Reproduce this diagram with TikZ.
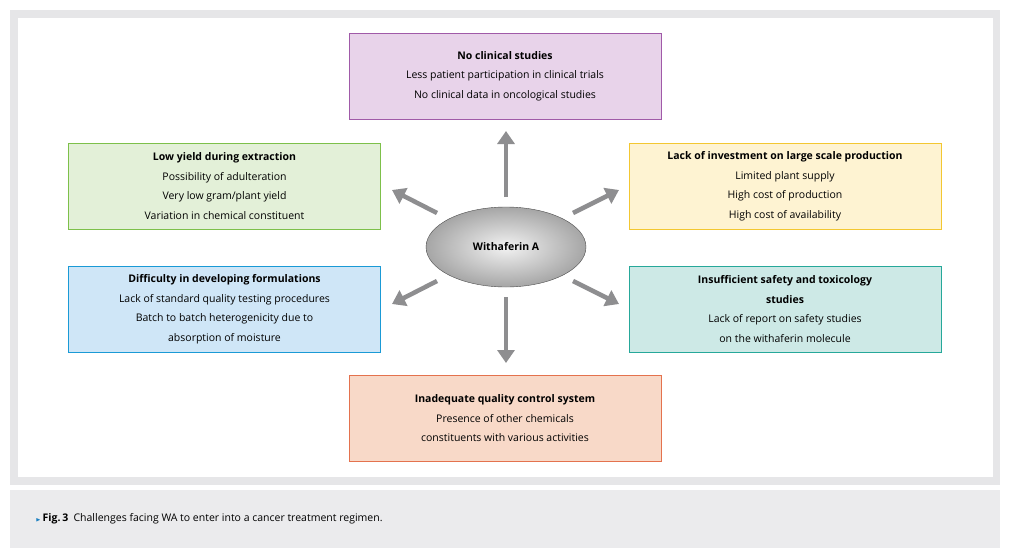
\documentclass[tikz,border=0pt]{standalone}
\usepackage{amssymb}
\usepackage{fontspec}
\setmainfont{Open Sans}
\usetikzlibrary{arrows.meta,shapes.geometric}
\definecolor{frame}{HTML}{E6E6E8}
\definecolor{capbg}{HTML}{EBEBED}
\definecolor{arr}{HTML}{8E8E90}
\definecolor{capblue}{HTML}{1A7FC1}
\definecolor{purpleD}{HTML}{A05AA8}\definecolor{purpleL}{HTML}{E8D3EA}
\definecolor{greenD}{HTML}{7DC04A}\definecolor{greenL}{HTML}{E3F0D8}
\definecolor{yellowD}{HTML}{F3C731}\definecolor{yellowL}{HTML}{FEF3D2}
\definecolor{blueD}{HTML}{1A9AD6}\definecolor{blueL}{HTML}{CFE6F7}
\definecolor{tealD}{HTML}{26A89A}\definecolor{tealL}{HTML}{CDE9E6}
\definecolor{orangeD}{HTML}{E4724E}\definecolor{orangeL}{HTML}{F8D9C8}
\tikzset{
  box/.style={draw=#1D, fill=#1L, line width=0.9pt, minimum width=312pt,
    minimum height=86pt, align=center, inner sep=2pt,
    font=\fontsize{10.5}{19.5}\selectfont},
  spoke/.style={arr, line width=4.5pt, -{Triangle[length=13pt,width=17pt]}}
}
\begin{document}
\begin{tikzpicture}[x=1pt,y=-1pt]
        \useasboundingbox (0,0) rectangle (1012,557);
        % Frame and caption band
        \fill[frame] (10,10) rectangle (1000,485);
        \fill[white] (18,18) rectangle (993,477);
        \fill[capbg] (10,490) rectangle (1000,548);
        \node[anchor=west, font=\fontsize{10.5}{13}\selectfont] (caption) at (32,519)
            {\textcolor{capblue}{\tiny$\blacktriangleright$}\,\textbf{Fig.\,3}\enspace Challenges facing WA to enter into a cancer treatment regimen.};

        % Challenge boxes
        \node[box=purple] (clinical) at (505,76)
            {\textbf{No clinical studies}\\Less patient participation in clinical trials\\No clinical data in oncological studies};
        \node[box=green] (yield) at (224.5,186)
            {\textbf{Low yield during extraction}\\Possibility of adulteration\\Very low gram/plant yield\\Variation in chemical constituent};
        \node[box=yellow] (invest) at (785,186)
            {\textbf{Lack of investment on large scale production}\\Limited plant supply\\High cost of production\\High cost of availability};
        \node[box=blue] (formul) at (224.5,309)
            {\textbf{Difficulty in developing formulations}\\Lack of standard quality testing procedures\\Batch to batch heterogenicity due to\\absorption of moisture};
        \node[box=teal] (safety) at (785,309)
            {\textbf{Insufficient safety and toxicology}\\\textbf{studies}\\Lack of report on safety studies\\on the withaferin molecule};
        \node[box=orange] (quality) at (505,418.5)
            {\textbf{Inadequate quality control system}\\Presence of other chemicals\\constituents with various activities};

        % Centre
        \node[ellipse, draw=black!70, inner color=white!90!gray, outer color=gray!70,
              minimum width=160pt, minimum height=80pt, font=\fontsize{10.5}{13}\selectfont\bfseries] (wa) at (506,247) {Withaferin A};

        % Spokes
        \coordinate (up0) at (506,197);   \coordinate (up1) at (506,131);
        \coordinate (dn0) at (506,297);   \coordinate (dn1) at (506,363);
        \coordinate (lu0) at (437,213);   \coordinate (lu1) at (392,190);
        \coordinate (ru0) at (573,213);   \coordinate (ru1) at (619,190);
        \coordinate (ld0) at (437,281);   \coordinate (ld1) at (392,304);
        \coordinate (rd0) at (573,281);   \coordinate (rd1) at (619,304);
        \foreach \s in {up,dn,lu,ru,ld,rd}
            \draw[spoke] (\s0) -- (\s1);
\end{tikzpicture}
\end{document}
